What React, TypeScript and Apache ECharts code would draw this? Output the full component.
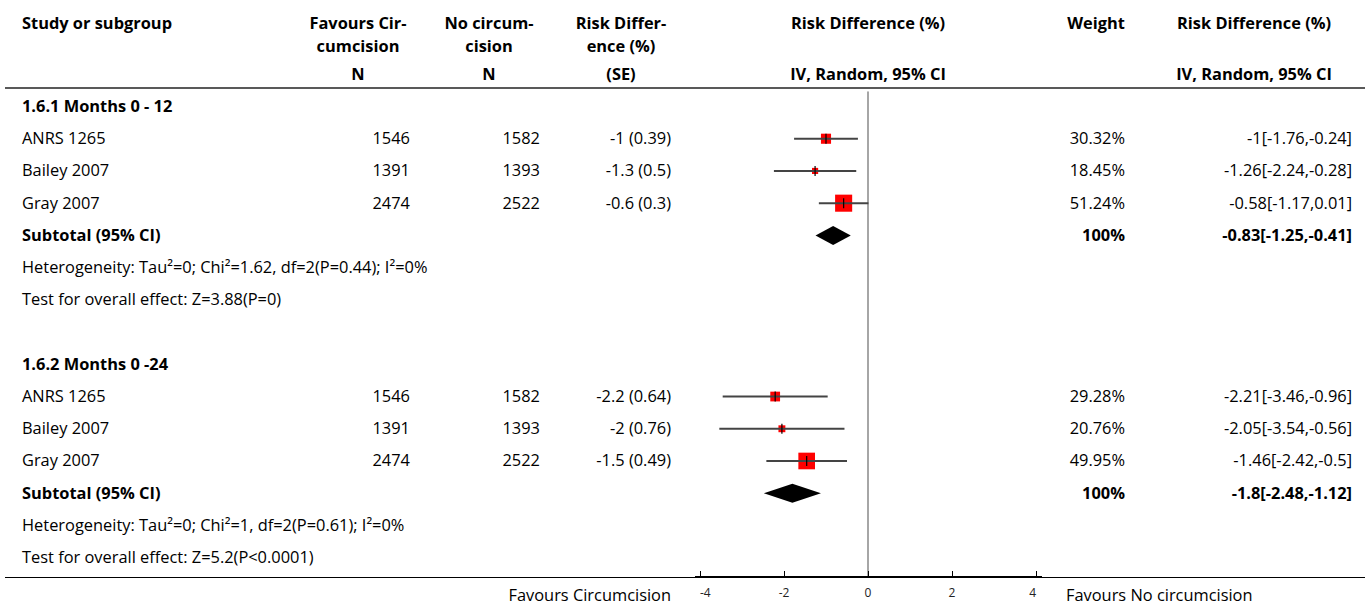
import React, { useEffect, useRef } from "react";
import * as echarts from "echarts";

const FONT = "'Open Sans', 'Noto Sans', sans-serif";
const FS = 16.4;

const studyNames = ["ANRS 1265", "Bailey 2007", "Gray 2007"];
const groupTitles = ["1.6.1 Months 0 - 12", "1.6.2 Months 0 -24"];

const g1N1 = [1546, 1391, 2474];
const g1N2 = [1582, 1393, 2522];
const g1RdSe = ["-1 (0.39)", "-1.3 (0.5)", "-0.6 (0.3)"];
const g1Weight = [30.32, 18.45, 51.24];
const g1Est = [-1, -1.26, -0.58];
const g1Lo = [-1.76, -2.24, -1.17];
const g1Hi = [-0.24, -0.28, 0.01];

const g2N1 = [1546, 1391, 2474];
const g2N2 = [1582, 1393, 2522];
const g2RdSe = ["-2.2 (0.64)", "-2 (0.76)", "-1.5 (0.49)"];
const g2Weight = [29.28, 20.76, 49.95];
const g2Est = [-2.21, -2.05, -1.46];
const g2Lo = [-3.46, -3.54, -2.42];
const g2Hi = [-0.96, -0.56, -0.5];

const subtotalEst = [-0.83, -1.8];
const subtotalLo = [-1.25, -2.48];
const subtotalHi = [-0.41, -1.12];

const heterogeneity = [
  "Heterogeneity: Tau²=0; Chi²=1.62, df=2(P=0.44); I²=0%",
  "Heterogeneity: Tau²=0; Chi²=1, df=2(P=0.61); I²=0%",
];
const overallEffect = [
  "Test for overall effect: Z=3.88(P=0)",
  "Test for overall effect: Z=5.2(P<0.0001)",
];

const xTicks = [-4, -2, 0, 2, 4];

type Row = { kind: string; cells: { text: string; col: string; bold?: boolean }[] };

function buildRows() {
  const groups = [
    { n1: g1N1, n2: g1N2, rd: g1RdSe, w: g1Weight, est: g1Est, lo: g1Lo, hi: g1Hi },
    { n1: g2N1, n2: g2N2, rd: g2RdSe, w: g2Weight, est: g2Est, lo: g2Lo, hi: g2Hi },
  ];
  const rows: Row[] = [];
  const studies: number[][] = [];
  const diamonds: number[][] = [];
  groups.forEach((g, gi) => {
    if (gi > 0) rows.push({ kind: "blank", cells: [] });
    rows.push({ kind: "group", cells: [{ text: groupTitles[gi], col: "name", bold: true }] });
    studyNames.forEach((nm, i) => {
      studies.push([g.est[i], rows.length, g.lo[i], g.hi[i], g.w[i]]);
      rows.push({
        kind: "study",
        cells: [
          { text: nm, col: "name" },
          { text: String(g.n1[i]), col: "n1" },
          { text: String(g.n2[i]), col: "n2" },
          { text: g.rd[i], col: "rd" },
          { text: g.w[i].toFixed(2) + "%", col: "w" },
          { text: `${g.est[i]}[${g.lo[i]},${g.hi[i]}]`, col: "ci" },
        ],
      });
    });
    diamonds.push([subtotalEst[gi], rows.length, subtotalLo[gi], subtotalHi[gi]]);
    rows.push({
      kind: "subtotal",
      cells: [
        { text: "Subtotal (95% CI)", col: "name", bold: true },
        { text: "100%", col: "w", bold: true },
        { text: `${subtotalEst[gi]}[${subtotalLo[gi]},${subtotalHi[gi]}]`, col: "ci", bold: true },
      ],
    });
    rows.push({ kind: "note", cells: [{ text: heterogeneity[gi], col: "name" }] });
    rows.push({ kind: "note", cells: [{ text: overallEffect[gi], col: "name" }] });
  });
  return { rows, studies, diamonds };
}

const COLS: Record<string, { x: number; align: string }> = {
  name: { x: 22, align: "left" },
  n1: { x: 410, align: "right" },
  n2: { x: 540, align: "right" },
  rd: { x: 671, align: "right" },
  w: { x: 1125, align: "right" },
  ci: { x: 1352, align: "right" },
};

function txt(text: string, x: number, y: number, align: string, bold = false, size = FS) {
  return {
    type: "text",
    x,
    y,
    silent: true,
    style: {
      text,
      fill: "#000",
      fontFamily: FONT,
      fontSize: size,
      fontWeight: bold ? "bold" : "normal",
      textAlign: align,
      align,
      textVerticalAlign: "middle",
      verticalAlign: "middle",
    },
  };
}

export default function App() {
  const ref = useRef<HTMLDivElement>(null);
  useEffect(() => {
    if (!ref.current) return;
    const chart = echarts.init(ref.current, null, { renderer: "svg" });
    const { rows, studies, diamonds } = buildRows();

    const headers: any[] = [
      txt("Study or subgroup", 22, 22, "left", true),
      txt("Favours Cir-", 358, 22, "center", true),
      txt("cumcision", 358, 45, "center", true),
      txt("N", 358, 73, "center", true),
      txt("No circum-", 489, 22, "center", true),
      txt("cision", 489, 45, "center", true),
      txt("N", 489, 73, "center", true),
      txt("Risk Differ-", 621, 22, "center", true),
      txt("ence (%)", 621, 45, "center", true),
      txt("(SE)", 621, 73, "center", true),
      txt("Risk Difference (%)", 868, 22, "center", true),
      txt("IV, Random, 95% CI", 868, 73, "center", true),
      txt("Weight", 1096, 22, "center", true),
      txt("Risk Difference (%)", 1254, 22, "center", true),
      txt("IV, Random, 95% CI", 1254, 73, "center", true),
      txt("Favours Circumcision", 671, 594, "right"),
      txt("Favours No circumcision", 1066, 594, "left"),
      {
        type: "line",
        silent: true,
        shape: { x1: 5, y1: 88, x2: 1365, y2: 88 },
        style: { stroke: "#222", lineWidth: 1.6 },
      },
      {
        type: "line",
        silent: true,
        shape: { x1: 5, y1: 577.5, x2: 1365, y2: 577.5 },
        style: { stroke: "#000", lineWidth: 1 },
      },
      {
        type: "line",
        silent: true,
        shape: { x1: 695, y1: 577, x2: 1042, y2: 577 },
        style: { stroke: "#000", lineWidth: 2 },
      },
    ];

    chart.setOption({
      animation: false,
      grid: { left: 700, width: 336, top: 92, height: 485 },
      xAxis: {
        type: "value",
        min: xTicks[0],
        max: xTicks[xTicks.length - 1],
        interval: 2,
        axisLine: { onZero: false, lineStyle: { color: "#000", width: 2 } },
        axisTick: { inside: true, length: 6, lineStyle: { color: "#000" } },
        axisLabel: {
          color: "#222",
          fontFamily: FONT,
          fontSize: 12,
          margin: 9,
          alignMinLabel: "left",
          alignMaxLabel: "right",
        },
        splitLine: { show: false },
      },
      yAxis: {
        type: "value",
        min: -0.45,
        max: 14.6,
        inverse: true,
        axisLine: { show: true, onZero: true, lineStyle: { color: "#888", width: 1.5 } },
        axisTick: { show: false },
        axisLabel: { show: false },
        splitLine: { show: false },
      },
      graphic: headers,
      series: [
        {
          type: "custom",
          name: "table",
          clip: false,
          silent: true,
          data: rows.map((_, i) => [0, i]),
          encode: { x: 0, y: 1 },
          renderItem: (params: any, api: any) => {
            const y = api.coord([0, api.value(1)])[1] - 1;
            const row = rows[params.dataIndex];
            return {
              type: "group",
              children: row.cells.map((c) =>
                txt(c.text, COLS[c.col].x, y, COLS[c.col].align, !!c.bold)
              ),
            };
          },
        },
        {
          type: "custom",
          name: "studies",
          clip: false,
          silent: true,
          data: studies,
          encode: { x: 0, y: 1 },
          renderItem: (params: any, api: any) => {
            const row = api.value(1);
            const c = api.coord([api.value(0), row]);
            const lo = api.coord([api.value(2), row]);
            const hi = api.coord([api.value(3), row]);
            const s = api.value(4) / 3;
            return {
              type: "group",
              children: [
                {
                  type: "rect",
                  shape: { x: c[0] - s / 2, y: c[1] - s / 2, width: s, height: s },
                  style: { fill: "#ff0000" },
                },
                {
                  type: "line",
                  shape: { x1: lo[0], y1: c[1], x2: hi[0], y2: c[1] },
                  style: { stroke: "#444", lineWidth: 2 },
                },
                {
                  type: "line",
                  shape: { x1: c[0], y1: c[1] - 5, x2: c[0], y2: c[1] + 5 },
                  style: { stroke: "#000", lineWidth: 1.2 },
                },
              ],
            };
          },
        },
        {
          type: "custom",
          name: "subtotals",
          clip: false,
          silent: true,
          data: diamonds,
          encode: { x: 0, y: 1 },
          renderItem: (params: any, api: any) => {
            const row = api.value(1);
            const c = api.coord([api.value(0), row]);
            const lo = api.coord([api.value(2), row]);
            const hi = api.coord([api.value(3), row]);
            const h = 9.5;
            return {
              type: "polygon",
              shape: {
                points: [
                  [lo[0], c[1]],
                  [c[0], c[1] - h],
                  [hi[0], c[1]],
                  [c[0], c[1] + h],
                ],
              },
              style: { fill: "#000" },
            };
          },
        },
      ],
    });
    return () => chart.dispose();
  }, []);
  return (
    <div
      ref={ref}
      style={{ position: "fixed", left: 0, top: 0, width: 1370, height: 606, background: "#fff" }}
    />
  );
}
